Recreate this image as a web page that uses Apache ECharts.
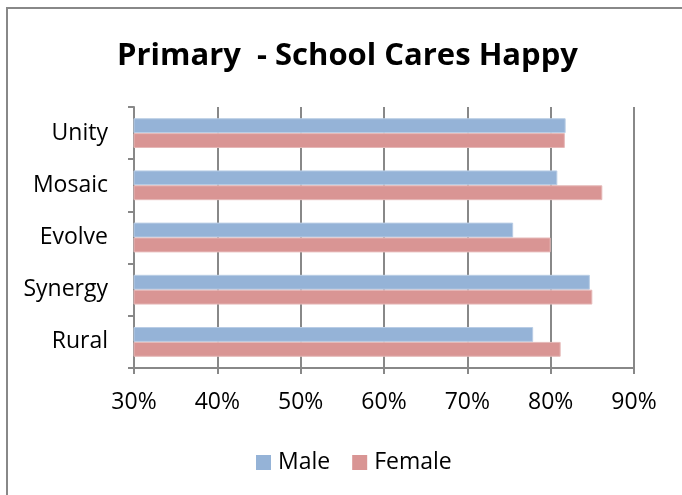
<!DOCTYPE html>
<html><head><meta charset="utf-8">
<script src="https://cdn.jsdelivr.net/npm/echarts@6/dist/echarts.min.js"></script>
<style>html,body{margin:0;padding:0;background:#fff}#c{width:682px;height:495px}</style>
</head><body><div id="c"></div>
<script>
const categories = ['Rural', 'Synergy', 'Evolve', 'Mosaic', 'Unity'];
const maleValues = [77.9, 84.7, 75.5, 80.8, 81.8];
const femaleValues = [81.2, 85.0, 80.0, 86.2, 81.7];
const seriesNames = ['Male', 'Female'];
const titleText = 'Primary  - School Cares Happy';

const chart = echarts.init(document.getElementById('c'));
const font = 'Open Sans, Noto Sans, sans-serif';
chart.setOption({
  animation: false,
  title: {
    text: titleText, left: 112, top: 36,
    textStyle: {fontFamily: font, fontWeight: 'bold', fontSize: 31, color: '#000'}
  },
  graphic: [{
    type: 'rect', shape: {x: 7, y: 8, width: 720, height: 600},
    style: {fill: 'none', stroke: '#888', lineWidth: 2}, silent: true
  }],
  legend: {
    data: seriesNames, top: 446, left: 251, itemWidth: 15, itemHeight: 15,
    itemGap: 22, icon: 'rect',
    itemStyle: {borderWidth: 0},
    textStyle: {fontFamily: font, fontSize: 23, color: '#000', padding: [0, 0, 0, 2]}
  },
  grid: {left: 134, right: 48, top: 107, bottom: 127, containLabel: false},
  xAxis: {
    type: 'value', min: 30, max: 90, interval: 10,
    axisLine: {show: true, lineStyle: {color: '#888', width: 2}},
    axisTick: {show: true, length: 6, lineStyle: {color: '#888', width: 2}},
    splitLine: {show: true, lineStyle: {color: '#888', width: 2}},
    axisLabel: {formatter: '{value}%', fontFamily: font, fontSize: 23, color: '#000', margin: 23}
  },
  yAxis: {
    type: 'category', data: categories,
    axisLine: {show: true, lineStyle: {color: '#888', width: 2}},
    axisTick: {show: true, length: 6, lineStyle: {color: '#888', width: 2}},
    axisLabel: {fontFamily: font, fontSize: 23, color: '#000', margin: 26}
  },
  series: [
    {name: 'Male', type: 'bar', data: maleValues, barGap: '0%', barCategoryGap: '43%',
     itemStyle: {color: '#95B3D7', borderColor: '#B9CDE5', borderWidth: 1}},
    {name: 'Female', type: 'bar', data: femaleValues, barGap: '0%', barCategoryGap: '43%',
     itemStyle: {color: '#D99594', borderColor: '#E6B9B8', borderWidth: 1}}
  ]
});
</script></body></html>
